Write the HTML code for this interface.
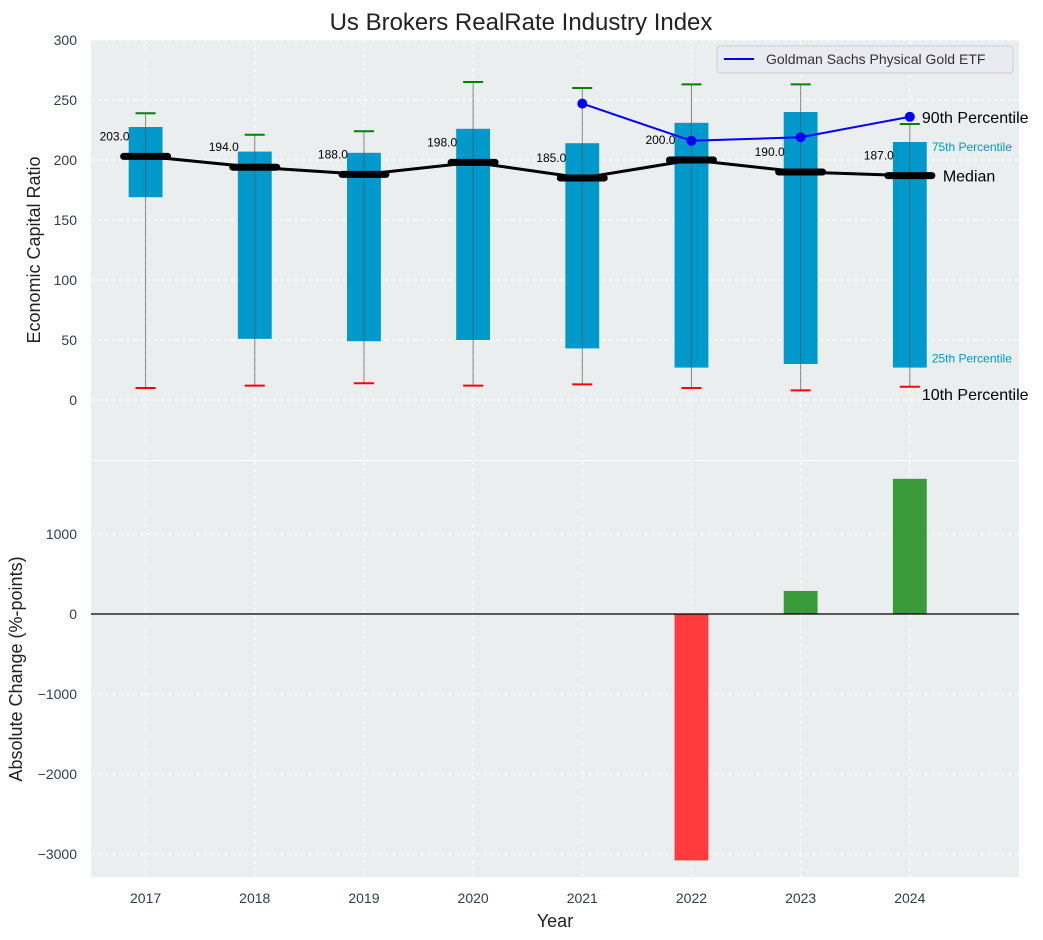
<!DOCTYPE html>
<html><head><meta charset="utf-8">
<style>
html,body{margin:0;padding:0;background:#fff;}
svg{display:block;font-family:"Liberation Sans","DejaVu Sans",sans-serif;}
</style></head>
<body>
<svg id="chart" width="1043" height="940" viewBox="0 0 1043 940" xmlns="http://www.w3.org/2000/svg">
<text x="521" y="30" text-anchor="middle" font-size="24" fill="#222">Us Brokers RealRate Industry Index</text>
<g id="top"></g>
<g id="bot"></g>
</svg>
<script>
const years = [2017,2018,2019,2020,2021,2022,2023,2024];
const p10 = [10,12,14,12,13,10,8,11];
const p25 = [169,51,49,50,43,27,30,27];
const medians = [203,194,188,198,185,200,190,187];
const p75 = [227.5,207,206,226,214,231,240,215];
const p90 = [239,221,224,265,260,263,263,230];
const goldYears = [2021,2022,2023,2024];
const goldValues = [247,216,219,236];
const changeYears = [2022,2023,2024];
const changeValues = [-3080,288,1690];
const topTicks = [0,50,100,150,200,250,300];
const botTicks = [-3000,-2000,-1000,0,1000];

const NS="http://www.w3.org/2000/svg";
const svg=document.getElementById('chart');
const gT=document.getElementById('top'), gB=document.getElementById('bot');
function el(p,tag,a,txt){const e=document.createElementNS(NS,tag);for(const k in a)e.setAttribute(k,a[k]);if(txt!==undefined)e.textContent=txt;p.appendChild(e);return e;}
const L=91,R=1019;
const x=v=>L+(v-2016.5)/(2025-2016.5)*(R-L);
const T0=40,T1=460; const yT=v=>400-v*1.2;
const B0=461,B1=877; const yB=v=>614-v*0.08;
const bg='#ebeeef';
const tickCol='#2e3d50';

// top panel
let r=el(gT,'rect',{x:L,y:T0,width:R-L,height:T1-T0,fill:bg});

topTicks.forEach(t=>{
 el(gT,'line',{x1:L,x2:R,y1:yT(t),y2:yT(t),stroke:'#fff','stroke-dasharray':'4,3','stroke-width':1});
 const tx=el(gT,'text',{x:L-14,y:yT(t)+5,'text-anchor':'end','font-size':14,fill:tickCol},t);
 
});
years.forEach(yr=>{
 el(gT,'line',{x1:x(yr),x2:x(yr),y1:T0,y2:T1,stroke:'#fff','stroke-dasharray':'4,3'});
});
const bw=(R-L)/8.5*0.31;
years.forEach((yr,i)=>{
 const cx=x(yr);
 const b=el(gT,'rect',{x:cx-bw/2,y:yT(p75[i]),width:bw,height:yT(p25[i])-yT(p75[i]),fill:'#0099cc'});
 
 el(gT,'line',{x1:cx,x2:cx,y1:yT(p90[i]),y2:yT(p10[i]),stroke:'#555','stroke-width':1,opacity:0.7});
 el(gT,'line',{x1:cx-10,x2:cx+10,y1:yT(p90[i]),y2:yT(p90[i]),stroke:'green','stroke-width':2});
 el(gT,'line',{x1:cx-10,x2:cx+10,y1:yT(p10[i]),y2:yT(p10[i]),stroke:'red','stroke-width':2});
});
let pts=years.map((yr,i)=>x(yr)+','+yT(medians[i])).join(' ');
let ml=el(gT,'polyline',{points:pts,fill:'none',stroke:'#000','stroke-width':3});

years.forEach((yr,i)=>{
 const cx=x(yr);
 el(gT,'line',{x1:cx-22,x2:cx+22,y1:yT(medians[i]),y2:yT(medians[i]),stroke:'#000','stroke-width':7,'stroke-linecap':'round'});
 const t=el(gT,'text',{x:cx-31,y:yT(medians[i])-16,'text-anchor':'middle','font-size':12,fill:'#000'},medians[i].toFixed(1));
 
});
let gp=goldYears.map((yr,i)=>x(yr)+','+yT(goldValues[i])).join(' ');
let gl=el(gT,'polyline',{points:gp,fill:'none',stroke:'blue','stroke-width':2});

goldYears.forEach((yr,i)=>{
 const c=el(gT,'circle',{cx:x(yr),cy:yT(goldValues[i]),r:5,fill:'blue'});
 
});
const lx=x(2024);
[['90th Percentile',yT(goldValues[3])+6,16,'#000',lx+12],['75th Percentile',yT(p75[7])+9,12,'#0099cc',lx+22],['Median',yT(medians[7])+6,16,'#000',lx+33],['25th Percentile',yT(p25[7])-5,12,'#0099cc',lx+22],['10th Percentile',yT(p10[7])+13,16,'#000',lx+12]].forEach(a=>{
 const t=el(gT,'text',{x:a[4],y:a[1],'font-size':a[2],fill:a[3]},a[0]);
 
});
// legend
const lg=el(gT,'g',{});

el(lg,'rect',{x:717,y:46,width:296,height:27,rx:3,fill:'#eaeaf2',stroke:'#ccc'});
el(lg,'line',{x1:724,x2:754,y1:59,y2:59,stroke:'blue','stroke-width':2});
el(lg,'text',{x:766,y:64,'font-size':14,fill:'#333'},'Goldman Sachs Physical Gold ETF');
let yl=el(gT,'text',{x:40,y:250,'text-anchor':'middle','font-size':18,fill:'#222',transform:'rotate(-90 40 250)'},'Economic Capital Ratio');


// bottom panel
r=el(gB,'rect',{x:L,y:B0,width:R-L,height:B1-B0,fill:bg});

botTicks.forEach(t=>{
 el(gB,'line',{x1:L,x2:R,y1:yB(t),y2:yB(t),stroke:'#fff','stroke-dasharray':'4,3'});
 const tx=el(gB,'text',{x:L-14,y:yB(t)+5,'text-anchor':'end','font-size':14,fill:tickCol},t.toString().replace('-','\u2212'));
 
});
years.forEach(yr=>{
 el(gB,'line',{x1:x(yr),x2:x(yr),y1:B0,y2:B1,stroke:'#fff','stroke-dasharray':'4,3'});
 const tx=el(gB,'text',{x:x(yr),y:903,'text-anchor':'middle','font-size':14,fill:tickCol},yr);
 
});
changeYears.forEach((yr,i)=>{
 const v=changeValues[i];
 const b=el(gB,'rect',{x:x(yr)-bw/2,y:Math.min(yB(v),yB(0)),width:bw,height:Math.abs(yB(v)-yB(0)),fill:v<0?'#ff3b3b':'#3a9a3a'});
 
});
el(gB,'line',{x1:L,x2:R,y1:yB(0),y2:yB(0),stroke:'#000','stroke-width':1.2});
yl=el(gB,'text',{x:22,y:669,'text-anchor':'middle','font-size':18,fill:'#222',transform:'rotate(-90 22 669)'},'Absolute Change (%-points)');

let xl=el(gB,'text',{x:555,y:927,'text-anchor':'middle','font-size':18,fill:'#222'},'Year');

</script>
</body></html>
